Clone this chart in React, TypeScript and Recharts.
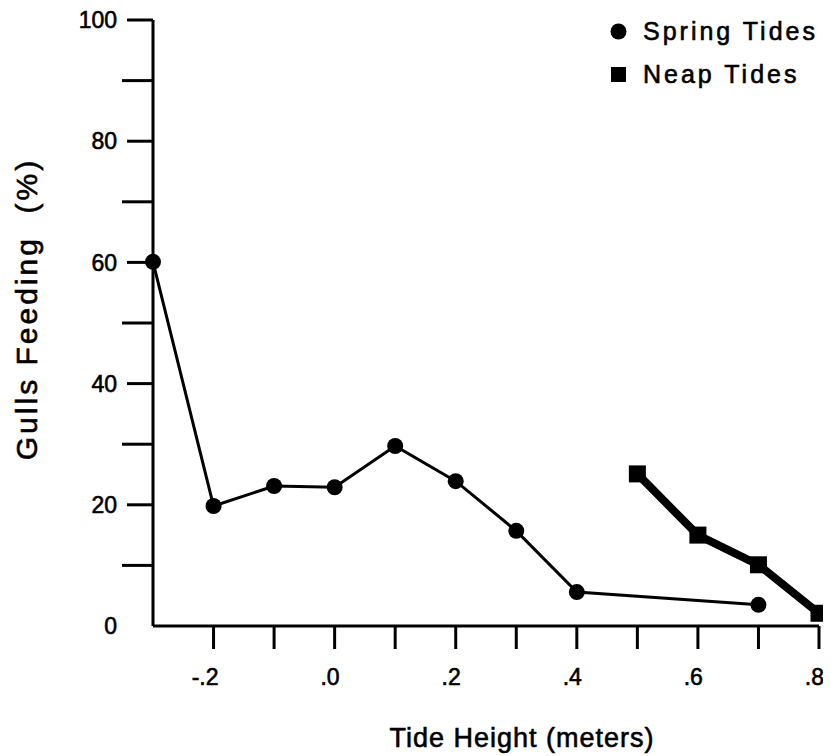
import React from 'react';
import { LineChart, Line, XAxis, YAxis, Legend, Label } from 'recharts';

// tide height (m) and % of gulls feeding
const springHeight = [-0.3, -0.2, -0.1, 0.0, 0.1, 0.2, 0.3, 0.4, 0.7];
const springFeeding = [60.1, 19.8, 23.1, 22.9, 29.7, 23.9, 15.7, 5.6, 3.5];
const neapHeight = [0.5, 0.6, 0.7, 0.8];
const neapFeeding = [25.1, 15.0, 10.1, 2.1];

const seriesNames = ['Spring Tides', 'Neap Tides'];

const xTicks = [-0.2, -0.1, 0.0, 0.1, 0.2, 0.3, 0.4, 0.5, 0.6, 0.7, 0.8];
const xTickLabels = ['-.2', '', '.0', '', '.2', '', '.4', '', '.6', '', '.8'];
const yTicks = [0, 10, 20, 30, 40, 50, 60, 70, 80, 90, 100];
const yTickLabels = ['0', '', '20', '', '40', '', '60', '', '80', '', '100'];

const springData = springHeight.map((h, i) => ({ height: h, feeding: springFeeding[i] }));
const neapData = neapHeight.map((h, i) => ({ height: h, feeding: neapFeeding[i] }));

const FONT = '"Liberation Sans", Arial, Helvetica, sans-serif';
const Y_TICK_SIZE = 31;
const Y_TICK_MARGIN = 5;

// scanned type is a little heavier than the plain font
const ink = { fill: '#000', stroke: '#000', strokeWidth: 0.6 };

const YTick = (props: any) => {
    const { x, y, index } = props;
    const label = yTickLabels[index];
    const axisX = x + Y_TICK_MARGIN + Y_TICK_SIZE;
    return (
        <g>
            {index > 0 && (
                <line
                    x1={axisX - (label ? Y_TICK_SIZE - 5 : Y_TICK_SIZE)}
                    x2={axisX}
                    y1={y}
                    y2={y}
                    stroke="#000"
                    strokeWidth={3}
                />
            )}
            <text x={x} y={y} dy="0.36em" textAnchor="end" fontSize={23} fontFamily={FONT} {...ink}>
                {label}
            </text>
        </g>
    );
};

const XTick = (props: any) => {
    const { x, y, index } = props;
    return (
        <text x={x + 5} y={y} dy="0.71em" textAnchor="end" fontSize={23} fontFamily={FONT} {...ink}>
            {xTickLabels[index]}
        </text>
    );
};

const SquareDot = (props: any) => {
    const { cx, cy, index } = props;
    return <rect key={`sq-${index}`} x={cx - 8.5} y={cy - 8.5} width={17} height={17} fill="#000" />;
};

const renderLegend = (props: any) => {
    const payload = [...props.payload].sort(
        (a: any, b: any) => seriesNames.indexOf(a.value) - seriesNames.indexOf(b.value)
    );
    return (
        <div
            style={{
                fontFamily: FONT,
                fontSize: 25,
                letterSpacing: 3,
                color: '#000',
                WebkitTextStroke: '0.6px #000',
            }}
        >
            {payload.map((entry: any) => (
                <div key={entry.value} style={{ display: 'flex', alignItems: 'center', height: 43 }}>
                    <svg width={17} height={17} style={{ marginRight: 16 }}>
                        {entry.value === seriesNames[0] ? (
                            <circle cx={8.5} cy={8.5} r={8} fill="#000" />
                        ) : (
                            <rect x={1} y={1} width={15} height={15} fill="#000" />
                        )}
                    </svg>
                    <span>{entry.value}</span>
                </div>
            ))}
        </div>
    );
};

const App: React.FC = () => {
    return (
        <div style={{ background: '#fff' }}>
            <LineChart
                width={823}
                height={748}
                margin={{ top: 12, right: 12, bottom: 0, left: 0 }}
            >
                <XAxis
                    type="number"
                    dataKey="height"
                    domain={[-0.3, 0.8]}
                    ticks={xTicks}
                    interval={0}
                    height={130}
                    stroke="#000"
                    axisLine={{ stroke: '#000', strokeWidth: 3 }}
                    tickLine={{ stroke: '#000', strokeWidth: 3 }}
                    tickSize={23}
                    tickMargin={20}
                    tick={<XTick />}
                    allowDuplicatedCategory={false}
                >
                    <Label
                        content={(p: any) => {
                            const vb = p.viewBox;
                            return (
                                <text
                                    x={vb.x + vb.width / 2 + 36}
                                    y={vb.y + vb.height - 9}
                                    textAnchor="middle"
                                    fontSize={27}
                                    letterSpacing={1}
                                    fontFamily={FONT}
                                    {...ink}
                                >
                                    Tide Height (meters)
                                </text>
                            );
                        }}
                    />
                </XAxis>
                <YAxis
                    type="number"
                    dataKey="feeding"
                    domain={[0, 100]}
                    ticks={yTicks}
                    interval={0}
                    width={145}
                    axisLine={{ stroke: '#000', strokeWidth: 3 }}
                    tickLine={false}
                    tickSize={Y_TICK_SIZE}
                    tickMargin={Y_TICK_MARGIN}
                    tick={<YTick />}
                >
                    <Label
                        content={(p: any) => {
                            const vb = p.viewBox;
                            const cx = vb.x + 29;
                            const cy = vb.y + vb.height / 2 - 14;
                            return (
                                <text
                                    x={cx}
                                    y={cy}
                                    transform={`rotate(-90 ${cx} ${cy})`}
                                    textAnchor="middle"
                                    fontSize={30}
                                    letterSpacing={3}
                                    fontFamily={FONT}
                                    {...ink}
                                    style={{ whiteSpace: 'pre' }}
                                >
                                    {'Gulls Feeding  (%)'}
                                </text>
                            );
                        }}
                    />
                </YAxis>
                <Legend
                    layout="horizontal"
                    verticalAlign="middle"
                    align="center"
                    content={renderLegend}
                    wrapperStyle={{ top: 2, left: 602, width: 221, height: 86 }}
                />
                <Line
                    data={springData}
                    dataKey="feeding"
                    name={seriesNames[0]}
                    type="linear"
                    stroke="#000"
                    strokeWidth={3}
                    dot={{ r: 8, fill: '#000', stroke: '#000', strokeWidth: 0 }}
                    activeDot={false}
                    isAnimationActive={false}
                />
                <Line
                    data={neapData}
                    dataKey="feeding"
                    name={seriesNames[1]}
                    type="linear"
                    stroke="#000"
                    strokeWidth={8}
                    strokeLinejoin="round"
                    dot={<SquareDot />}
                    activeDot={false}
                    isAnimationActive={false}
                />
            </LineChart>
        </div>
    );
};

export default App;
